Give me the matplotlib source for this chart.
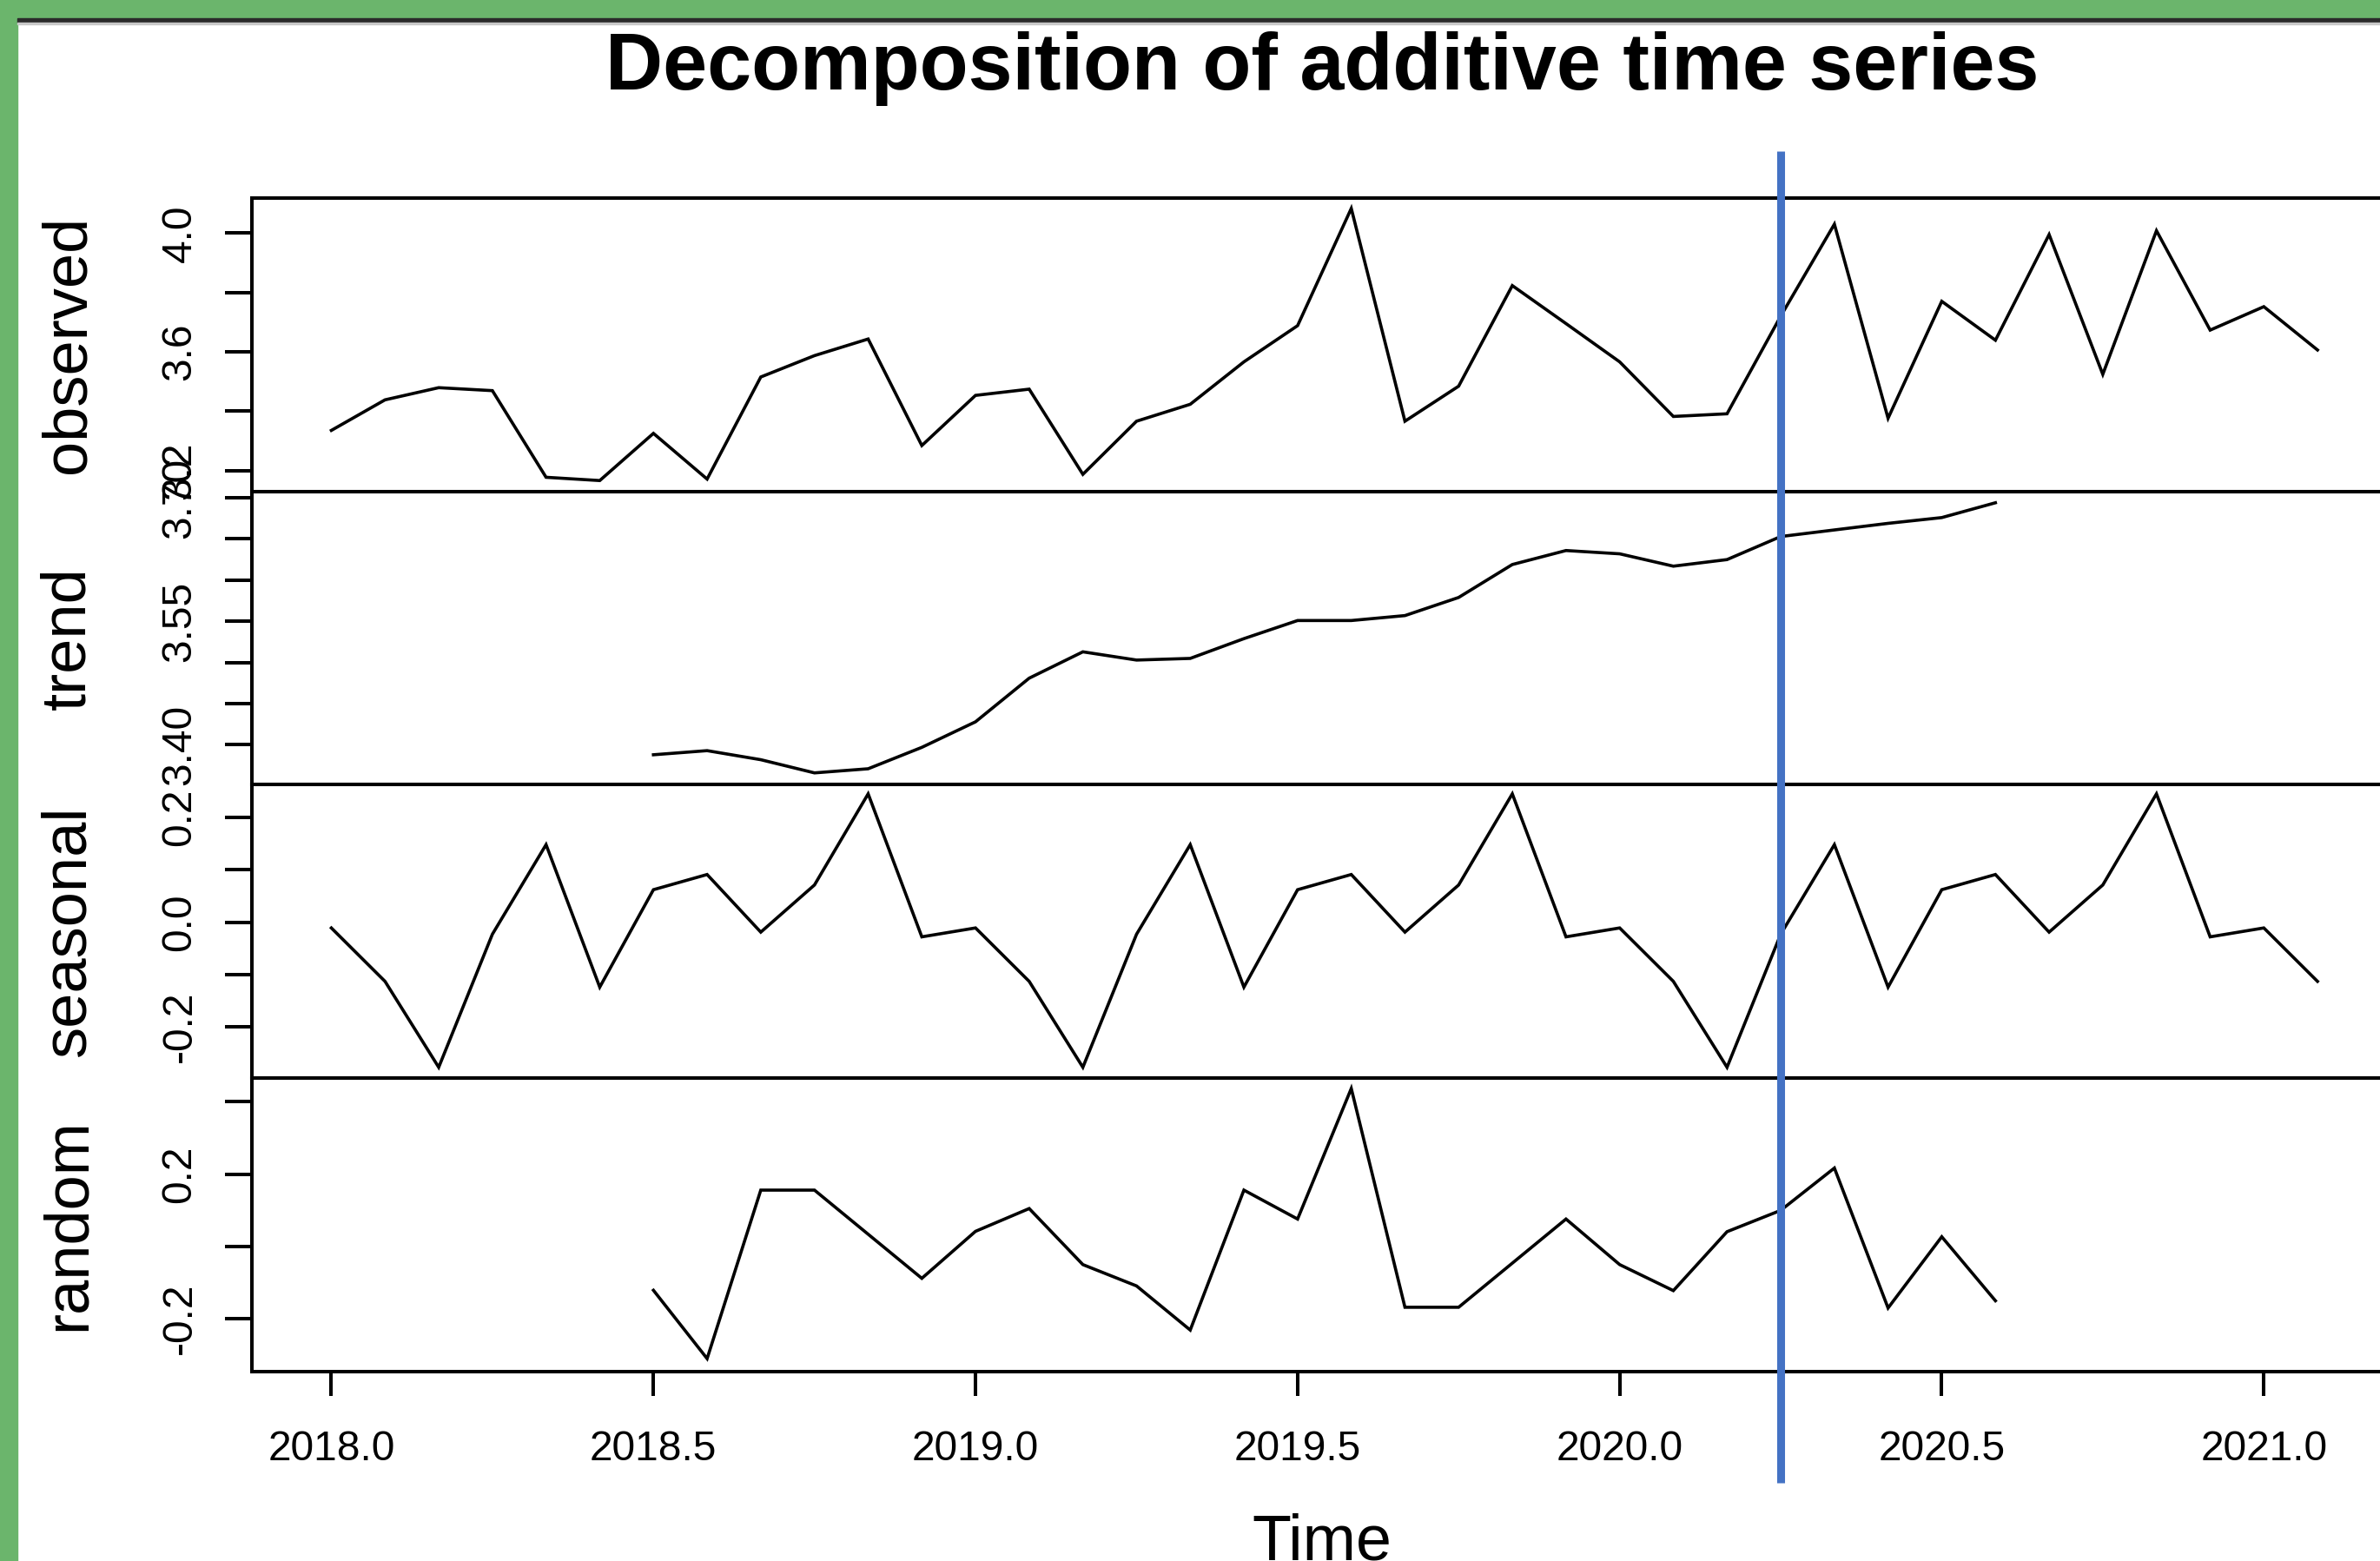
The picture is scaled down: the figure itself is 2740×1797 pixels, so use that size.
import numpy as np
import matplotlib
matplotlib.use("Agg")
import matplotlib.pyplot as plt
from matplotlib.patches import Rectangle
from matplotlib.transforms import blended_transform_factory

plt.rcParams['font.family'] = ['Liberation Sans', 'DejaVu Sans']

# monthly series, Jan 2018 .. Feb 2021
start_year = 2018
observed = [3.335, 3.438, 3.479, 3.469, 3.177, 3.166, 3.325, 3.171, 3.515, 3.587,
            3.643, 3.284, 3.453, 3.474, 3.187, 3.366, 3.423, 3.566, 3.688, 4.083,
            3.366, 3.484, 3.823, 3.695, 3.566, 3.382, 3.391, 3.720, 4.030, 3.376,
            3.770, 3.639, 3.995, 3.524, 4.008, 3.673, 3.752, 3.606]
# trend and random start at Jul 2018 (index 6)
trend = [3.388, 3.393, 3.382, 3.366, 3.371, 3.397, 3.428, 3.481, 3.513, 3.503,
         3.505, 3.529, 3.551, 3.551, 3.557, 3.579, 3.619, 3.636, 3.632, 3.617,
         3.625, 3.653, 3.661, 3.669, 3.676, 3.694]
seasonal = [-0.011, -0.113, -0.277, -0.023, 0.148, -0.124, 0.062, 0.091, -0.019, 0.071,
            0.245, -0.028, -0.011, -0.113, -0.277, -0.023, 0.148, -0.124, 0.062, 0.091,
            -0.019, 0.071, 0.245, -0.028, -0.011, -0.113, -0.277, -0.023, 0.148, -0.124,
            0.062, 0.091, -0.019, 0.071, 0.245, -0.028, -0.011, -0.113]
random = [-0.121, -0.310, 0.156, 0.156, 0.034, -0.088, 0.042, 0.105, -0.050, -0.109,
          -0.231, 0.156, 0.076, 0.437, -0.168, -0.168, -0.046, 0.076, -0.050, -0.122,
          0.041, 0.100, 0.217, -0.170, 0.027, -0.150]
trend_offset = 6
marker_year = 2020.25

panel_names = ['observed', 'trend', 'seasonal', 'random']
panel_ylims = [(3.130, 4.118), (3.352, 3.708), (-0.2975, 0.263), (-0.346, 0.466)]
panel_ticks = [[3.2, 3.4, 3.6, 3.8, 4.0],
               [3.40, 3.45, 3.50, 3.55, 3.60, 3.65, 3.70],
               [-0.2, -0.1, 0.0, 0.1, 0.2],
               [-0.2, 0.0, 0.2, 0.4]]
panel_labels = [['3.2', '', '3.6', '', '4.0'],
                ['3.40', '', '', '3.55', '', '', '3.70'],
                ['-0.2', '', '0.0', '', '0.2'],
                ['-0.2', '', '0.2', '']]
xticks = [2018.0, 2018.5, 2019.0, 2019.5, 2020.0, 2020.5, 2021.0]

t = start_year + np.arange(len(observed)) / 12
t_mid = t[trend_offset:trend_offset + len(trend)]
series = [(t, observed), (t_mid, trend), (t, seasonal), (t_mid, random)]

W, H = 2740, 1797
fig = plt.figure(figsize=(W / 100, H / 100), dpi=100)
fig.patch.set_facecolor('white')

# green frame and dark top line of the screenshot
green = '#6bb56c'
fig.patches.append(Rectangle((0, 0), 20 / W, 1, transform=fig.transFigure, color=green, zorder=0))
fig.patches.append(Rectangle((0, 1 - 21 / H), 1, 21 / H, transform=fig.transFigure, color=green, zorder=0))
fig.patches.append(Rectangle((20 / W, 1 - 26 / H), 1, 5 / H, transform=fig.transFigure, color='#2a2a2a', zorder=0))
fig.patches.append(Rectangle((20 / W, 1 - 28 / H), 1, 2 / H, transform=fig.transFigure, color='#c8c8c8', zorder=0))

n_obs = len(observed)
xlim = (start_year - 0.04 * (n_obs - 1) / 12, t[-1] + 0.04 * (n_obs - 1) / 12)
left_px, right_px = 290, 290 + 741.6 * (xlim[1] - xlim[0])
bounds = [228, 565.5, 903, 1241, 1579]

lw_box = 2.9
axes = []
for k in range(4):
    top, bot = bounds[k], bounds[k + 1]
    ax = fig.add_axes([left_px / W, 1 - bot / H, (right_px - left_px) / W, (bot - top) / H])
    x, y = series[k]
    ax.plot(x, y, color='black', lw=2.6, solid_joinstyle='miter')
    ax.set_xlim(xlim)
    ax.set_ylim(panel_ylims[k])
    ax.set_yticks(panel_ticks[k])
    ax.set_yticklabels(panel_labels[k], rotation=90, va='center')
    ax.tick_params(axis='y', length=22.5, width=lw_box, pad=21, labelsize=34.5)
    for s in ax.spines.values():
        s.set_linewidth(lw_box)
    ax.set_facecolor('none')
    if k < 3:
        ax.set_xticks([])
    else:
        ax.set_xticks(xticks)
        ax.set_xticklabels(['%.1f' % v for v in xticks])
        ax.tick_params(axis='x', length=20.5, width=lw_box, pad=28, labelsize=34.5)
    fig.text(79 / W, 1 - (top + bot) / 2 / H, panel_names[k], rotation=90,
             ha='center', va='center', fontsize=52)
    axes.append(ax)

fig.text(1522 / W, 1 - 103 / H, 'Decomposition of additive time series',
         ha='center', va='baseline', fontsize=66, fontweight='bold')
fig.text(1522 / W, 1 - 1795 / H, 'Time', ha='center', va='baseline', fontsize=53)

# blue marker line spanning all panels
trans = blended_transform_factory(axes[3].transData, fig.transFigure)
line = plt.Line2D([marker_year, marker_year], [1 - 174 / H, 1 - 1707 / H], transform=trans,
                  color='#4472c4', lw=6.5, solid_capstyle='butt', zorder=10)
fig.lines.append(line)

fig.savefig('out.png', dpi=100)
